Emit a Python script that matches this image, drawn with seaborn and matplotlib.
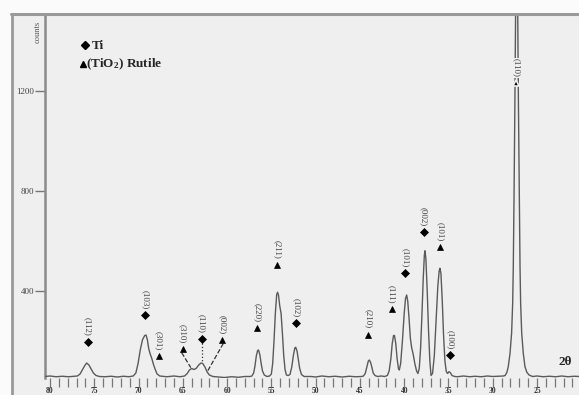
import numpy as np
import matplotlib
matplotlib.use("Agg")
import matplotlib.pyplot as plt
from matplotlib.lines import Line2D
from matplotlib.patches import Rectangle
import seaborn as sns

# Diffractogram trace: 2-theta (deg) and intensity (counts)
two_theta = [
    80.6, 80.0, 79.3, 78.6, 77.9, 77.2,
    76.9, 76.6, 76.35, 76.1, 75.86, 75.6, 75.35, 75.1, 74.8, 74.4,
    73.8, 73.1, 72.4, 71.7, 71.1,
    70.6, 70.3, 70.05, 69.8, 69.55, 69.3, 69.15, 69.0, 68.85, 68.7, 68.5, 68.3, 68.1, 67.9, 67.6,
    66.8, 66.0, 65.3, 64.8, 64.5, 64.25, 64.0, 63.75, 63.5, 63.2, 62.95, 62.75, 62.5, 62.25, 62.0,
    61.6, 61.0, 60.3, 59.5, 58.7, 58.0, 57.4,
    57.2, 57.0, 56.85, 56.7, 56.55, 56.45, 56.3, 56.15, 56.0, 55.8, 55.5,
    55.2, 55.0, 54.85, 54.7, 54.55, 54.4, 54.3, 54.2, 54.05, 53.9, 53.75, 53.6, 53.45, 53.3, 53.1,
    52.9, 52.7, 52.5, 52.35, 52.25, 52.1, 51.95, 51.8, 51.6, 51.3,
    50.5, 50.0, 49.3, 48.5, 47.8, 47.0, 46.2, 45.5, 44.8,
    44.6, 44.4, 44.2, 44.05, 43.94, 43.8, 43.65, 43.5, 43.3, 43.0, 42.6, 42.2,
    41.9, 41.7, 41.5, 41.35, 41.2, 41.1, 40.95, 40.8, 40.65, 40.55,
    40.4, 40.2, 40.0, 39.85, 39.72, 39.6, 39.45, 39.3, 39.15, 39.0, 38.8, 38.6, 38.45,
    38.3, 38.15, 38.0, 37.85, 37.72, 37.65, 37.55, 37.4, 37.25, 37.1, 36.97,
    36.8, 36.6, 36.4, 36.2, 36.05, 35.96, 35.85, 35.7, 35.55, 35.4, 35.25, 35.1, 34.95, 34.8, 34.6, 34.3,
    34.0, 33.3, 32.6, 32.0, 31.3, 30.6, 30.0, 29.4, 28.8,
    28.6, 28.4, 28.25, 28.05, 27.87, 27.75, 27.68, 27.6, 27.5, 27.4, 27.3, 27.2, 27.1, 27.0,
    26.92, 26.85, 26.73, 26.55, 26.36, 26.15, 25.9, 25.5,
    25.0, 24.3, 23.6, 22.9, 22.2, 21.5, 20.8, 20.2,
]
counts = [
    58, 60, 57, 59, 57, 59,
    60, 68, 84, 100, 112, 104, 88, 72, 62, 58,
    57, 59, 56, 59, 57,
    60, 72, 110, 165, 205, 222, 224, 205, 170, 150, 130, 105, 85, 68, 60,
    57, 60, 57, 60, 70, 84, 90, 86, 90, 104, 112, 110, 96, 76, 64,
    58, 56, 54, 57, 55, 58, 58,
    60, 72, 100, 140, 162, 164, 145, 110, 80, 64, 58,
    60, 68, 110, 200, 310, 385, 395, 385, 340, 310, 230, 140, 85, 64, 62,
    66, 95, 145, 172, 175, 160, 125, 90, 66, 58,
    58, 56, 60, 57, 59, 56, 59, 57, 58,
    60, 70, 98, 120, 124, 115, 95, 72, 62, 58, 60, 58,
    62, 80, 130, 190, 222, 222, 190, 130, 90, 84,
    110, 200, 310, 370, 384, 360, 290, 210, 172, 150, 110, 80, 70,
    90, 170, 300, 450, 545, 561, 530, 400, 240, 120, 62,
    70, 140, 280, 420, 480, 491, 470, 360, 220, 120, 78, 70, 77, 74, 62, 58,
    57, 60, 57, 59, 57, 60, 58, 59, 60,
    62, 75, 97, 150, 232, 350, 497, 764, 1150, 1600, 1850, 1600, 1150, 764,
    497, 350, 232, 150, 97, 75, 64, 58,
    60, 57, 59, 57, 60, 57, 59, 58,
]

# Indexed reflections: Miller indices, phase, marker position
peak_labels = ["(112)", "(103)", "(301)", "(310)", "(110)", "(002)", "(220)", "(211)",
               "(102)", "(210)", "(111)", "(101)", "(002)", "(101)", "(100)", "(110)"]
peak_phase = ["Ti", "Ti", "Rutile", "Rutile", "Ti", "Rutile", "Rutile", "Rutile",
              "Ti", "Rutile", "Rutile", "Ti", "Ti", "Rutile", "Ti", "Rutile"]
marker_2theta = [75.75, 69.27, 67.7, 65.0, 62.87, 60.55, 56.59, 54.33,
                 52.22, 44.05, 41.42, 39.91, 37.77, 35.96, 34.83, 27.38]
marker_counts = [197, 304, 140, 167, 207, 204, 253, 504,
                 273, 226, 327, 471, 637, 577, 144, 1231]

# Leader lines for the crowded 60-65 deg region: (reflection index, target 2-theta, style)
leader_index = [3, 4, 5]
leader_target = [64.1, 62.87, 62.2]
leader_style = ["--", ":", "--"]

y_ticks = [400, 800, 1200]
x_major = [80, 75, 70, 65, 60, 55, 50, 45, 40, 35, 30, 25]
x_minor = list(range(21, 81))

sns.set_theme(style="white")
plt.rcParams["font.family"] = ["Liberation Serif", "DejaVu Serif"]
plt.rcParams["mathtext.fontset"] = "custom"
plt.rcParams["mathtext.rm"] = "Liberation Serif:bold"
plt.rcParams["mathtext.it"] = "Liberation Serif:italic:bold"
plt.rcParams["mathtext.bf"] = "Liberation Serif:bold"

W, H = 579, 395
BG = "#efefef"
FRAME = "#9a9a9a"


def fx(px):
    return px / W


def fy(py):
    return 1 - py / H


fig = plt.figure(figsize=(W / 100, H / 100), dpi=100)
fig.patch.set_facecolor("#fbfbfb")
fig.add_artist(Rectangle((fx(11), 0), 1 - fx(11), fy(14), transform=fig.transFigure,
                         facecolor=BG, edgecolor="none", zorder=0))
fig.add_artist(Line2D([fx(11), 1], [fy(14), fy(14)], color=FRAME, lw=2.2, zorder=1))
fig.add_artist(Line2D([fx(11.5), fx(11.5)], [0, fy(14)], color=FRAME, lw=2.0, zorder=1))

ax = fig.add_axes([fx(45), fy(378), 1 - fx(45), fy(14) - fy(378)])
ax.set_facecolor("none")

sns.lineplot(x=two_theta, y=counts, sort=False, estimator=None, ax=ax,
             color="#5a5a5a", lw=1.0, zorder=3)

ax.set_xlim(80.56, 20.26)
ax.set_ylim(52, 1508)
for side in ("top", "right", "bottom"):
    ax.spines[side].set_visible(False)
ax.spines["left"].set_color("#8a8a8a")
ax.spines["left"].set_linewidth(1.8)

ax.set_yticks(y_ticks)
ax.set_yticklabels([str(v) for v in y_ticks])
ax.tick_params(axis="y", left=True, direction="out", length=7, width=1.0,
               color="#777777", labelsize=6.5, labelcolor="#444444", pad=1)
ax.set_xticks(x_major)
ax.set_xticks(x_minor, minor=True)
ax.set_xticklabels([str(v) for v in x_major], fontweight="bold")
ax.tick_params(axis="x", which="both", bottom=True, direction="out", length=6.5,
               width=0.9, color="#777777", labelsize=5.5, labelcolor="#333333", pad=0.2)
ax.set_xlabel("")
ax.set_ylabel("")

# Phase markers with rotated Miller-index labels
for i, (lab, ph, tx, ty) in enumerate(zip(peak_labels, peak_phase, marker_2theta, marker_counts)):
    mk = "D" if ph == "Ti" else "^"
    ms = 3.6 if ph == "Ti" else 5.0
    on_line = i == len(peak_labels) - 1
    ax.plot([tx], [ty], marker=mk, ms=ms, color="black", ls="none",
            mec=BG if on_line else "black", mew=1.2 if on_line else 0.5, zorder=5, clip_on=False)
    bbox = dict(facecolor=BG, edgecolor="none", pad=0.6) if on_line else None
    ax.annotate(lab, (tx, ty), xytext=(0, 4.2), textcoords="offset points",
                rotation=270, ha="center", va="bottom", fontsize=6.5,
                color="#444444", bbox=bbox, zorder=6)

for idx, tgt, st in zip(leader_index, leader_target, leader_style):
    x0, y0 = marker_2theta[idx], marker_counts[idx] - 14
    y1 = np.interp(tgt, two_theta[::-1], counts[::-1]) + 6
    ax.plot([x0 + (0.0 if st == ":" else (0.12 if tgt < x0 else -0.12)), tgt], [y0, y1],
            ls=st, color="#333333", lw=0.9, zorder=4)

# Legend block
fig.add_artist(Line2D([fx(85)], [fy(44.5)], marker="D", ms=3.6, color="black", ls="none"))
fig.text(fx(91.5), fy(49), "Ti", fontsize=9.5, fontweight="bold", va="baseline", ha="left")
fig.add_artist(Line2D([fx(82.5)], [fy(63.5)], marker="^", ms=5.0, color="black", ls="none"))
fig.text(fx(86), fy(67), r"(TiO$_2$) Rutile", fontsize=9.5, fontweight="bold",
         va="baseline", ha="left")

fig.text(fx(38), fy(32), "counts", rotation=90, fontsize=6, color="#555555",
         ha="center", va="center")
fig.text(fx(565), fy(362), "2\u03b8", fontsize=9.5, fontweight="bold",
         ha="center", va="center")

fig.savefig("out.png", dpi=100, facecolor=fig.get_facecolor())
